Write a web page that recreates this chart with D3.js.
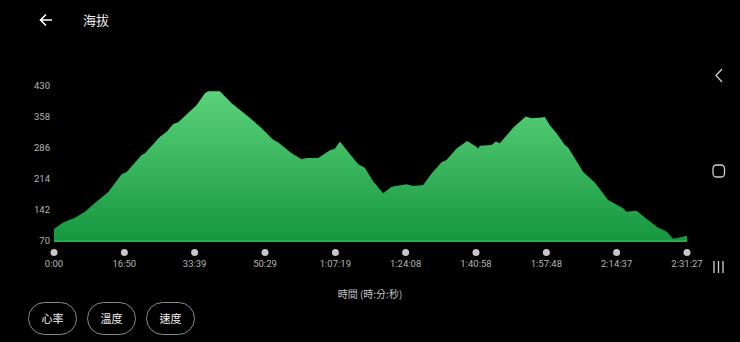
<!DOCTYPE html>
<html>
<head>
<meta charset="utf-8">
<script src="https://cdn.jsdelivr.net/npm/d3@7"></script>
<style>
  html, body { margin: 0; padding: 0; background: #000; }
  body { width: 740px; height: 342px; overflow: hidden; font-family: Roboto, "Noto Sans CJK TC", sans-serif; }
</style>
</head>
<body>
<div id="chart"></div>
<script>
// elapsed seconds / altitude (m)
var times = [0, 133, 301, 445, 588, 779, 971, 1043, 1258, 1306, 1521, 1617, 1712, 1784, 2048, 2167, 2214, 2382,
  2550, 2788, 2980, 3147, 3219, 3411, 3554, 3626, 3793, 3961, 4032, 4104, 4223, 4367, 4463, 4582, 4725, 4846,
  5061, 5156, 5300, 5420, 5564, 5635, 5779, 5931, 6041, 6089, 6113, 6281, 6343, 6400, 6591, 6687, 6773, 6855,
  6998, 7046, 7118, 7214, 7333, 7380, 7476, 7596, 7763, 7954, 8169, 8218, 8361, 8528, 8672, 8792, 8887, 8983, 9087];
var altitude = [98, 113, 124, 138, 158, 184, 225, 230, 270, 274, 312, 324, 342, 346, 386, 413, 418, 418,
  390, 359, 332, 305, 299, 274, 260, 263, 263, 281, 284, 301, 277, 248, 240, 208, 181, 196,
  202, 198, 200, 227, 253, 258, 285, 302, 291, 285, 291, 293, 301, 297, 333, 347, 359, 355,
  357, 358, 339, 320, 293, 287, 262, 230, 206, 165, 146, 138, 140, 119, 101, 92, 75, 78, 82];

var yTicks = [70, 142, 214, 286, 358, 430];
var xTicks = [0, 1010, 2019, 3029, 4039, 5048, 6058, 7068, 8077, 9087];
var xTickLabels = ["0:00", "16:50", "33:39", "50:29", "1:07:19", "1:24:08", "1:40:58", "1:57:48", "2:14:37", "2:31:27"];
var buttons = ["心率", "溫度", "速度"];

var width = 740, height = 342;
var svg = d3.select("#chart").append("svg")
    .attr("width", width)
    .attr("height", height);

var x = d3.scaleLinear().domain([0, 9087]).range([54, 687]);
var y = d3.scaleLinear().domain([70, 430]).range([241, 86]);

var data = times.map(function(t, i) { return {t: t, v: altitude[i]}; });

// gradient fill
var grad = svg.append("defs").append("linearGradient")
    .attr("id", "fillGrad")
    .attr("gradientUnits", "userSpaceOnUse")
    .attr("x1", 0).attr("y1", y(418))
    .attr("x2", 0).attr("y2", y(70));
grad.append("stop").attr("offset", "0%").attr("stop-color", "#5bd27b");
grad.append("stop").attr("offset", "100%").attr("stop-color", "#16973f");

var area = d3.area()
    .x(function(d) { return x(d.t); })
    .y0(y(70))
    .y1(function(d) { return y(d.v); });

svg.append("path")
    .datum(data)
    .attr("d", area)
    .attr("fill", "url(#fillGrad)");

svg.append("line")
    .attr("x1", x(0)).attr("x2", x(9087))
    .attr("y1", y(70)).attr("y2", y(70))
    .attr("stroke", "#1fae4a")
    .attr("stroke-width", 2);

// y labels
svg.append("g").selectAll("text")
    .data(yTicks)
    .join("text")
    .attr("x", 50)
    .attr("y", function(d) { return y(d); })
    .attr("dy", "0.35em")
    .attr("text-anchor", "end")
    .attr("fill", "#b4b4b4")
    .attr("font-size", 9.5)
    .text(function(d) { return d; });

// x ticks: dots + labels
var xg = svg.append("g");
xg.selectAll("circle")
    .data(xTicks)
    .join("circle")
    .attr("cx", function(d) { return x(d); })
    .attr("cy", 252.5)
    .attr("r", 3.5)
    .attr("fill", "#c8c8c8");
xg.selectAll("text")
    .data(xTicks)
    .join("text")
    .attr("x", function(d) { return x(d); })
    .attr("y", 264)
    .attr("dy", "0.35em")
    .attr("text-anchor", "middle")
    .attr("fill", "#b4b4b4")
    .attr("font-size", 9.5)
    .text(function(d, i) { return xTickLabels[i]; });

svg.append("text")
    .attr("x", 370)
    .attr("y", 294)
    .attr("dy", "0.35em")
    .attr("text-anchor", "middle")
    .attr("fill", "#c4c4c4")
    .attr("font-size", 10)
    .attr("font-family", "'Noto Sans CJK TC', Roboto, sans-serif")
    .text("時間 (時:分:秒)");

// header
svg.append("path")
    .attr("d", "M52,20 H41 M46,14.5 L40.5,20 L46,25.5")
    .attr("stroke", "#fff")
    .attr("stroke-width", 1.6)
    .attr("fill", "none");
svg.append("text")
    .attr("x", 83)
    .attr("y", 20)
    .attr("dy", "0.35em")
    .attr("fill", "#f0f0f0")
    .attr("font-size", 13)
    .attr("font-family", "'Noto Sans CJK TC', sans-serif")
    .text("海拔");

// pill buttons
var bx = [28, 87, 146];
var bg = svg.append("g").selectAll("g")
    .data(buttons)
    .join("g")
    .attr("transform", function(d, i) { return "translate(" + bx[i] + ",302)"; });
bg.append("rect")
    .attr("x", 0.5).attr("y", 0.5)
    .attr("width", 48).attr("height", 32)
    .attr("rx", 16)
    .attr("fill", "none")
    .attr("stroke", "#8a8a8a")
    .attr("stroke-width", 1);
bg.append("text")
    .attr("x", 24.5)
    .attr("y", 17)
    .attr("dy", "0.35em")
    .attr("text-anchor", "middle")
    .attr("fill", "#eeeeee")
    .attr("font-size", 11)
    .attr("font-family", "'Noto Sans CJK TC', sans-serif")
    .text(function(d) { return d; });

// nav bar icons on the right
var nav = svg.append("g").attr("stroke", "#cfcfcf").attr("fill", "none").attr("stroke-width", 1.3);
nav.append("path").attr("d", "M722,69 L716,75.5 L722,82");
nav.append("rect").attr("x", 713).attr("y", 165).attr("width", 11.5).attr("height", 12).attr("rx", 3.5);
nav.append("path").attr("d", "M714,261 V273 M718.5,261 V273 M723,261 V273");
</script>
</body>
</html>
